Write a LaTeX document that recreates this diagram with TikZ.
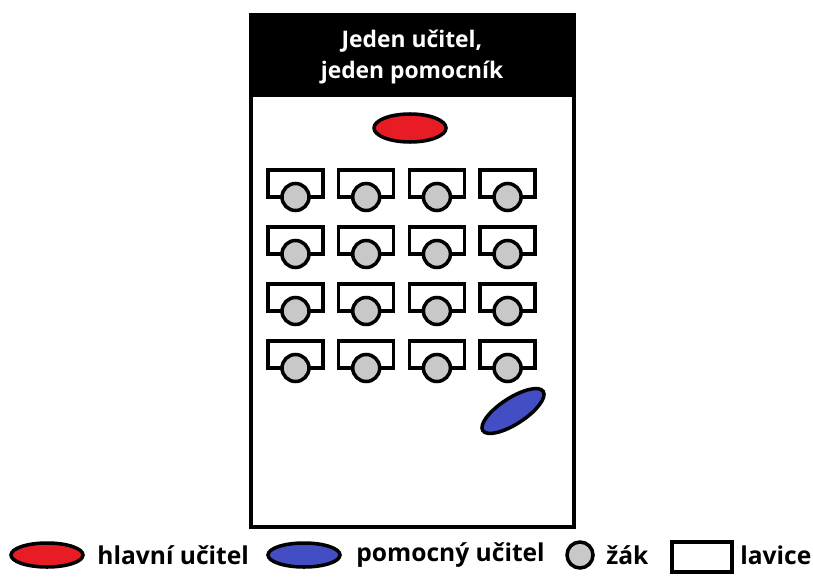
\documentclass[tikz,border=0pt]{standalone}
\usepackage{fontspec}
\setmainfont{Open Sans}
\usetikzlibrary{positioning}

\definecolor{leadred}{RGB}{232,28,36}
\definecolor{assistblue}{RGB}{68,78,196}
\definecolor{pupilgray}{RGB}{200,200,200}

\tikzset{
  outline/.style={draw=black, line width=2pt},
  desk/.style={outline, fill=white},
  pupil/.style={outline, fill=pupilgray},
  keytext/.style={font=\bfseries\fontsize{14}{16}\selectfont, anchor=west, inner sep=0pt},
}

\begin{document}
\begin{tikzpicture}[x=0.02cm, y=-0.02cm]
    \useasboundingbox (0,0) rectangle (813,577);

    % Classroom with its heading
    \draw[outline, fill=white] (251,15) rectangle (574,527);
    \fill[black] (251,15) rectangle (574,97);
    \node[font=\bfseries\fontsize{13}{18}\selectfont, text=white, align=center] (title) at (412,57) {Jeden učitel,\\jeden pomocník};

    % Main teacher at the front
    \draw[outline, fill=leadred] (410,128) ellipse (36 and 14);

    % Desks with pupils
    \foreach \col in {0,...,3}
      \foreach \row in {0,...,3} {
        \draw[desk] ({268+70.7*\col},{170+57*\row}) rectangle +(55,27);
        \draw[pupil] ({295.5+70.7*\col},{197+57*\row}) circle (13.5);
      }

    % Assistant at the back
    \draw[outline, fill=assistblue, rotate around={33:(513,411)}] (513,411) ellipse (36 and 13);

    % Legend
    \draw[outline, fill=leadred] (47,555) ellipse (36 and 12);
    \node[keytext] (lead) at (97,555) {hlavní učitel};

    \draw[outline, fill=assistblue] (304,555) ellipse (36 and 12);
    \node[keytext] (assist) at (356,555) {pomocný učitel};

    \draw[pupil] (580,555) circle (13);
    \node[keytext] (pupilkey) at (606,555) {žák};

    \draw[desk] (672,542) rectangle (732,572);
    \node[keytext] (deskkey) at (740,555) {lavice};

\end{tikzpicture}
\end{document}
